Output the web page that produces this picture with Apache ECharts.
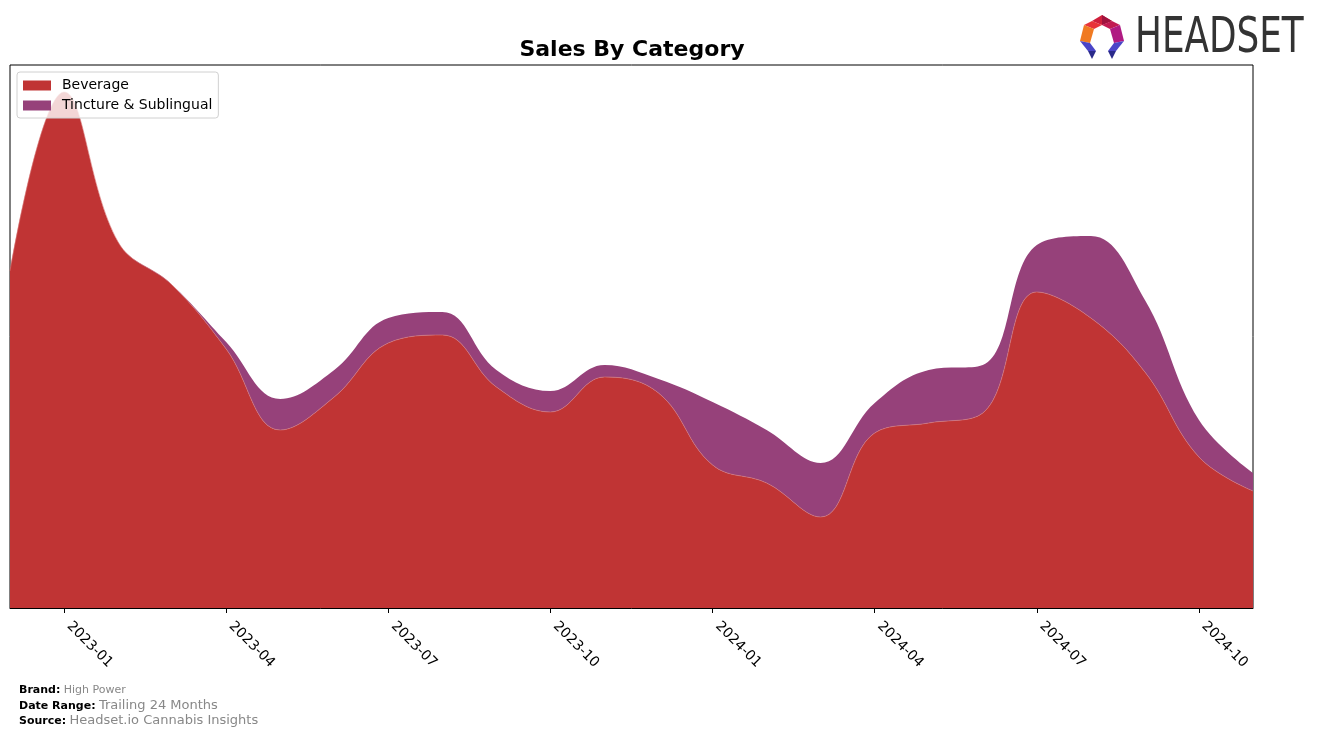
<!DOCTYPE html>
<html>
<head>
<meta charset="utf-8">
<script src="https://cdn.jsdelivr.net/npm/echarts@6/dist/echarts.min.js"></script>
<style>
html,body{margin:0;padding:0;background:#fff;}
#c{width:1317px;height:738px;}
</style>
</head>
<body>
<div id="c"></div>
<script>
// Months (first of each month), Dec 2022 .. Nov 2024
const months = ["2022-12","2023-01","2023-02","2023-03","2023-04","2023-05","2023-06","2023-07","2023-08","2023-09","2023-10","2023-11","2023-12","2024-01","2024-02","2024-03","2024-04","2024-05","2024-06","2024-07","2024-08","2024-09","2024-10","2024-11"];
// Sales (relative units)
const beverage = [33700,51600,36600,32300,25900,17800,21100,26500,27300,22100,19600,23100,21500,14300,12500,9100,17500,18500,19500,31600,29000,23600,15100,11700];
const tincture = [0,0,0,0,700,3100,2700,2500,2300,1700,2100,1200,1400,6300,5300,5400,3000,5300,4800,4700,8200,7200,3700,1800];
const tickMonths = ["01","04","07","10"];
const yMax = 54300;

const chart = echarts.init(document.getElementById('c'), null, {renderer:'canvas'});
const showIdx = (i, v) => tickMonths.indexOf(v.slice(5)) >= 0;

chart.setOption({
  animation:false,
  backgroundColor:'#fff',
  color:['#c03434','#96417a'],
  grid:{left:10,right:64,top:65,bottom:130,show:true,borderColor:'#000',borderWidth:1,backgroundColor:'transparent'},
  legend:{
    orient:'vertical', left:17, top:72,
    padding:[6,6,5,6], itemGap:5, itemWidth:28, itemHeight:10,
    icon:'rect',
    borderColor:'#d0d0d0', borderWidth:1, borderRadius:3,
    backgroundColor:'rgba(255,255,255,0.8)',
    textStyle:{fontFamily:'DejaVu Sans',fontSize:14,color:'#000',lineHeight:15,padding:[0,0,0,6]},
    data:['Beverage','Tincture & Sublingual']
  },
  xAxis:{
    type:'category', data:months, boundaryGap:false,
    axisLine:{show:true,lineStyle:{color:'#000',width:1}},
    axisTick:{show:true,interval:showIdx,length:5,lineStyle:{color:'#000'}},
    axisLabel:{interval:showIdx,rotate:-45,margin:11,padding:[0,0,0,7],fontFamily:'DejaVu Sans',fontSize:14,color:'#000'},
    splitLine:{show:false}
  },
  yAxis:{type:'value',min:0,max:yMax,show:false,splitLine:{show:false}},
  series:[
    {name:'Beverage',type:'line',stack:'s',data:beverage,smooth:0.4,symbol:'none',
     lineStyle:{width:0.6,color:'#d87a7a'},areaStyle:{color:'#c03434',opacity:1},itemStyle:{color:'#c03434'}},
    {name:'Tincture & Sublingual',type:'line',stack:'s',data:tincture,smooth:0.4,symbol:'none',
     lineStyle:{width:0},areaStyle:{color:'#96417a',opacity:1},itemStyle:{color:'#96417a'}}
  ],
  graphic:[
    {type:'text',x:632,y:50,style:{text:'Sales By Category',font:'bold 22px "DejaVu Sans"',fill:'#000',textAlign:'center',textVerticalAlign:'middle'}},
    {type:'text',x:19,y:690,style:{text:'{b|Brand:} {g|High Power}',textVerticalAlign:'middle',rich:{b:{font:'bold 11px "DejaVu Sans"',fill:'#000'},g:{font:'11px "DejaVu Sans"',fill:'#888'}}}},
    {type:'text',x:19,y:706,style:{text:'{b|Date Range:} {g|Trailing 24 Months}',textVerticalAlign:'middle',rich:{b:{font:'bold 11px "DejaVu Sans"',fill:'#000'},g:{font:'13px "DejaVu Sans"',fill:'#888'}}}},
    {type:'text',x:19,y:721,style:{text:'{b|Source:} {g|Headset.io Cannabis Insights}',textVerticalAlign:'middle',rich:{b:{font:'bold 11px "DejaVu Sans"',fill:'#000'},g:{font:'13px "DejaVu Sans"',fill:'#888'}}}},
    // logo
    {type:'group',x:1080,y:15,children:[
      {type:'polygon',shape:{points:[[12,6],[22,0],[32,6],[22,10]]},style:{fill:'#d0203c'}},
      {type:'polygon',shape:{points:[[32,6],[22,10],[22,0]]},style:{fill:'#a0133f'}},
      {type:'polygon',shape:{points:[[12,6],[22,10],[14,14],[4,10]]},style:{fill:'#e8343a'}},
      {type:'polygon',shape:{points:[[4,10],[14,14],[10,28],[0,26]]},style:{fill:'#f07a22'}},
      {type:'polygon',shape:{points:[[32,6],[40,10],[30,14],[22,10]]},style:{fill:'#c21a52'}},
      {type:'polygon',shape:{points:[[40,10],[44,26],[34,28],[30,14]]},style:{fill:'#b01a82'}},
      {type:'polygon',shape:{points:[[0,26],[10,28],[16,36],[8,36]]},style:{fill:'#4a45c8'}},
      {type:'polygon',shape:{points:[[8,36],[16,36],[12,44]]},style:{fill:'#2a2a8a'}},
      {type:'polygon',shape:{points:[[44,26],[34,28],[28,36],[36,36]]},style:{fill:'#4a45c8'}},
      {type:'polygon',shape:{points:[[36,36],[28,36],[32,44]]},style:{fill:'#2a2a8a'}}
    ]},
    {type:'text',x:1135,y:39,scaleX:0.73,style:{text:'HEADSET',font:'49px "DejaVu Sans"',fill:'#333',textVerticalAlign:'middle'}}
  ]
});
</script>
</body>
</html>
